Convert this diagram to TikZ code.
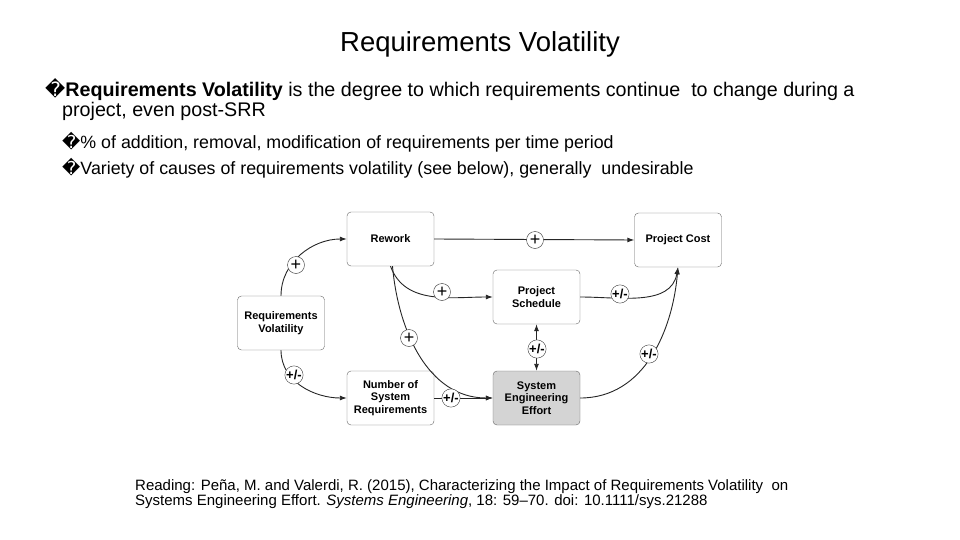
\documentclass[tikz,border=0pt]{standalone}
\usepackage{fontspec}
\setmainfont{Liberation Sans}
\newfontfamily\dv{DejaVu Sans}
\usetikzlibrary{arrows.meta}
\begin{document}
\begin{tikzpicture}[x=1pt,y=-1pt,
  box/.style={draw=black!60,rounded corners=4pt,minimum width=87pt,minimum height=54pt,align=center,font=\fontsize{11}{12.5}\selectfont\bfseries,fill=white,inner sep=1pt},
  sgn/.style={draw=black!80,circle,fill=white,inner sep=0pt,minimum size=17pt,font=\fontsize{13}{13}\selectfont\bfseries},
  con/.style={draw=black!85,line width=0.9pt,-{Latex[length=7pt,width=5pt]}}]
\useasboundingbox (0,0) rectangle (960,540);
\node (title) at (480,44) {\fontsize{27.5}{30}\selectfont Requirements Volatility};
\node[anchor=west,inner sep=0pt] (b1) at (45,90) {\fontsize{19.7}{22}\selectfont{\dv �}\textbf{Requirements Volatility} is the degree to which requirements continue\ \ to change during a};
\node[anchor=west,inner sep=0pt] (b1b) at (62,111) {\fontsize{19.7}{22}\selectfont project, even post-SRR};
\node[anchor=west,inner sep=0pt] (b2) at (62,142) {\fontsize{17.8}{20}\selectfont{\dv �}\% of addition, removal, modification of requirements per time period};
\node[anchor=west,inner sep=0pt] (b3) at (62,168) {\fontsize{17.8}{20}\selectfont{\dv �}Variety of causes of requirements volatility (see below), generally\ \ undesirable};
\node[anchor=west,inner sep=0pt,align=left] (ref) at (135,494) {\fontsize{15}{17}\selectfont Reading: Peña, M. and Valerdi, R. (2015), Characterizing the Impact of Requirements Volatility\ \ on\\ \fontsize{15}{17}\selectfont Systems Engineering Effort. \textit{Systems Engineering}, 18: 59--70. doi: 10.1111/sys.21288};

\node[box] (rw) at (390.5,239) {Rework};
\node[box] (pc) at (678,240) {Project Cost};
\node[box] (ps) at (536.5,297) {Project\\Schedule};
\node[box] (rv) at (281,323) {Requirements\\Volatility};
\node[box] (nsr) at (390.5,398) {Number of\\System\\Requirements};
\node[box,fill=black!17] (see) at (536.5,398) {System\\Engineering\\Effort};

\draw[con] (rv.north) to[out=90,in=180] (rw.west);
\draw[con] (rv.south) to[out=-90,in=180] (nsr.west);
\draw[con] (rw.east) -- (pc.west);
\draw[con] (rw.south) to[out=-70,in=180] (ps.west);
\draw[con] ([xshift=2pt]rw.south) to[out=-85,in=180] (see.west);
\draw[con] (nsr.east) -- (see.west);
\draw[con,{Latex[length=7pt,width=5pt]}-{Latex[length=7pt,width=5pt]}] (see.north) -- (ps.south);
\draw[con] (ps.east) to[out=0,in=-100] (pc.south);
\draw[con] (see.east) to[out=0,in=-95] (pc.south);

\node[sgn,font=\fontsize{18}{18}\selectfont] (s1) at (296,265) {+};
\node[sgn] (s2) at (294,375) {+/-};
\node[sgn,font=\fontsize{18}{18}\selectfont] (s3) at (535,240) {+};
\node[sgn,font=\fontsize{18}{18}\selectfont] (s4) at (442,292) {+};
\node[sgn,font=\fontsize{18}{18}\selectfont] (s5) at (409,338) {+};
\node[sgn] (s6) at (451,398) {+/-};
\node[sgn] (s7) at (537,349) {+/-};
\node[sgn] (s8) at (620,294) {+/-};
\node[sgn] (s9) at (649,354) {+/-};
\end{tikzpicture}
\end{document}
